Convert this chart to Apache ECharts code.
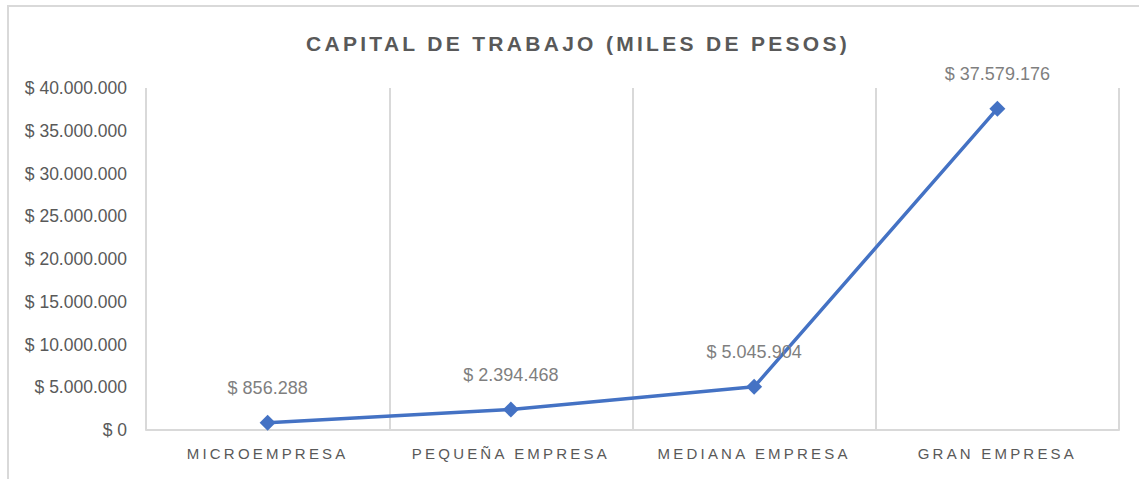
<!DOCTYPE html>
<html>
<head>
<meta charset="utf-8">
<script src="https://cdn.jsdelivr.net/npm/echarts@6/dist/echarts.min.js"></script>
<style>
  html, body { margin: 0; padding: 0; background: #fff; }
  #chart { width: 1139px; height: 479px; }
</style>
</head>
<body>
<div id="chart"></div>
<script>
var categories = ['MICROEMPRESA', 'PEQUEÑA EMPRESA', 'MEDIANA EMPRESA', 'GRAN EMPRESA'];
var capital = [856288, 2394468, 5045904, 37579176];
var yTicks = [0, 5000000, 10000000, 15000000, 20000000, 25000000, 30000000, 35000000, 40000000];

function pesos(v) {
  return '$ ' + String(Math.round(v)).replace(/\B(?=(\d{3})+(?!\d))/g, '.');
}

var chart = echarts.init(document.getElementById('chart'), null, { renderer: 'svg' });

var option = {
  backgroundColor: '#ffffff',
  animation: false,
  title: {
    text: 'CAPITAL DE TRABAJO (MILES DE PESOS)',
    left: 573,
    textAlign: 'center',
    top: 28,
    textStyle: {
      color: '#595959',
      fontFamily: 'Liberation Sans, Arial, sans-serif',
      fontWeight: 'bold',
      fontSize: 21
    }
  },
  graphic: [{
    type: 'rect',
    shape: { x: 8, y: 6, width: 1300, height: 600 },
    style: { fill: 'none', stroke: '#d9d9d9', lineWidth: 2 },
    silent: true
  }],
  grid: { left: 146, right: 20, top: 88, bottom: 49 },
  xAxis: {
    type: 'category',
    data: categories,
    boundaryGap: true,
    axisLine: { lineStyle: { color: '#d9d9d9', width: 2 } },
    axisTick: { show: false },
    splitLine: { show: true, lineStyle: { color: '#d9d9d9', width: 2 } },
    axisLabel: {
      color: '#595959',
      fontFamily: 'Liberation Sans, Arial, sans-serif',
      fontSize: 15,
      margin: 16
    }
  },
  yAxis: {
    type: 'value',
    min: 0,
    max: yTicks[yTicks.length - 1],
    interval: yTicks[1] - yTicks[0],
    axisLine: { show: false },
    axisTick: { show: false },
    splitLine: { show: false },
    axisLabel: {
      color: '#595959',
      fontFamily: 'Liberation Sans Narrow, Arial Narrow, Liberation Sans, sans-serif',
      fontSize: 17.5,
      margin: 19,
      formatter: pesos
    }
  },
  series: [{
    type: 'line',
    data: capital,
    symbol: 'diamond',
    symbolSize: 16,
    lineStyle: { color: '#4472C4', width: 3.5 },
    itemStyle: { color: '#4472C4' },
    label: {
      show: true,
      position: 'top',
      distance: 18,
      color: '#7f7f7f',
      fontFamily: 'Liberation Sans Narrow, Arial Narrow, Liberation Sans, sans-serif',
      fontSize: 18,
      formatter: function (p) { return pesos(p.value); }
    }
  }]
};

chart.setOption(option);

// spaced caps for title and category labels, like the source
setTimeout(function () {
  var texts = document.querySelectorAll('#chart text');
  texts.forEach(function (t) {
    var s = t.textContent;
    if (s === option.title.text) {
      t.style.letterSpacing = '3.3px';
    } else if (categories.indexOf(s) >= 0) {
      t.style.letterSpacing = '3.2px';
    }
  });
}, 0);
</script>
</body>
</html>
